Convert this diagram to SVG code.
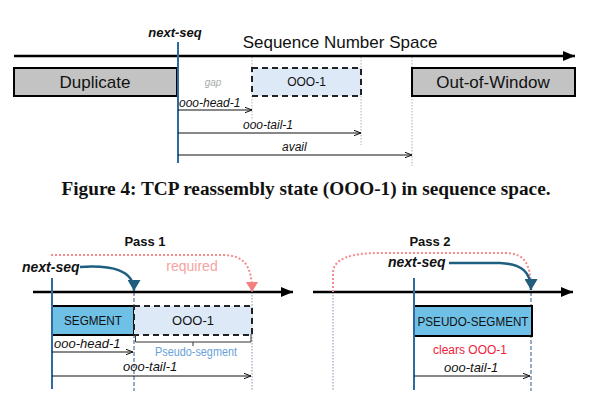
<svg xmlns="http://www.w3.org/2000/svg" width="609" height="400" viewBox="0 0 609 400">
<style>
.sans{font-family:"Liberation Sans",Arial,sans-serif}
.lbl{font-family:"Liberation Sans",Arial,sans-serif;font-style:italic;font-size:12px;fill:#111}
.lbl2{font-family:"Liberation Sans",Arial,sans-serif;font-style:italic;font-size:13px;fill:#111}
.ns{font-family:"Liberation Sans",Arial,sans-serif;font-style:italic;font-weight:bold;fill:#111}
.axis{stroke:#000;stroke-width:2.6;fill:none}
.blue{stroke:#2f6ba3;stroke-width:2;fill:none}
.dot{stroke:#b0b0b0;stroke-width:1;stroke-dasharray:1.5,1.5;fill:none}
.dotb{stroke:#aab8cc;stroke-width:1.5;stroke-dasharray:1.5,1.5;fill:none}
.dash{stroke:#95abc6;stroke-width:2;stroke-dasharray:4,2;fill:none}
.meas{stroke:#111;stroke-width:1;fill:none}
.solid{stroke:#000;stroke-width:2}
.ooo{fill:#dde9f7;stroke:#222;stroke-width:2;stroke-dasharray:6,4}
.gray{fill:#c3c3c3}
.sky{fill:#6fc0e7}
.req{stroke:#f58a8a;stroke-width:2;stroke-dasharray:2,2;fill:none}
.teal{stroke:#1e5f80;stroke-width:2.5;fill:none}
</style>
<defs>
<marker id="big" viewBox="0 0 12 10" markerWidth="12" markerHeight="10" refX="12" refY="5" orient="auto" markerUnits="userSpaceOnUse"><path d="M0,0 L12,5 L0,10 Z" fill="#000"/></marker>
<marker id="small" viewBox="0 0 7 6" markerWidth="7" markerHeight="6" refX="7" refY="3" orient="auto" markerUnits="userSpaceOnUse"><path d="M0,0.3 L7,3 L0,5.7" fill="none" stroke="#111" stroke-width="1"/></marker>
<marker id="pinkTri" viewBox="0 0 10 12" markerWidth="10" markerHeight="12" refX="10" refY="6" orient="auto" markerUnits="userSpaceOnUse"><path d="M0,0 L10,6 L0,12 Z" fill="#f57f7f"/></marker>
<marker id="tealTri" viewBox="0 0 11 13" markerWidth="11" markerHeight="13" refX="11" refY="6.5" orient="auto" markerUnits="userSpaceOnUse"><path d="M0,0 L11,6.5 L0,13 Z" fill="#1e5f80"/></marker>
</defs>

<!-- ===== Top figure ===== -->
<g id="guides-top">
<line class="dot" x1="252" y1="57" x2="252" y2="120"/>
<line class="dot" x1="361" y1="57" x2="361" y2="145"/>
<line class="dot" x1="412" y1="57" x2="412" y2="166"/>
</g>
<g id="axis-top">
<line class="axis" x1="14" y1="56" x2="575" y2="56" marker-end="url(#big)"/>
<text class="sans" x="340" y="48" font-size="17" text-anchor="middle" fill="#111">Sequence Number Space</text>
</g>
<g id="duplicate">
<rect class="gray solid" x="14" y="68" width="163" height="28"/>
<text class="sans" x="95" y="88" font-size="17" text-anchor="middle" fill="#111">Duplicate</text>
</g>
<g id="ooo1-top">
<rect class="ooo" x="252" y="68" width="109" height="28"/>
<text class="sans" x="306.5" y="86" font-size="12" text-anchor="middle" fill="#111">OOO-1</text>
</g>
<g id="out-of-window">
<rect class="gray solid" x="412" y="68" width="163" height="28"/>
<text class="sans" x="493" y="88" font-size="17" text-anchor="middle" fill="#111">Out-of-Window</text>
</g>
<g id="gap">
<text class="sans" x="213" y="86" font-size="10" font-style="italic" text-anchor="middle" fill="#aaa">gap</text>
</g>
<g id="next-seq-top">
<line class="blue" x1="178" y1="42" x2="178" y2="163"/>
<text class="ns" x="175" y="37" font-size="13" text-anchor="middle">next-seq</text>
</g>
<g id="connectors-top">
<line class="meas" x1="178" y1="110" x2="252" y2="110" marker-end="url(#small)"/>
<text class="lbl" x="179" y="107">ooo-head-1</text>
<line class="meas" x1="178" y1="133" x2="361" y2="133" marker-end="url(#small)"/>
<text class="lbl" x="243" y="129">ooo-tail-1</text>
<line class="meas" x1="178" y1="155" x2="412" y2="155" marker-end="url(#small)"/>
<text class="lbl" x="282" y="151">avail</text>
</g>

<g id="caption">
<text x="306" y="195" font-family="'Liberation Serif','Times New Roman',serif" font-weight="bold" font-size="18" text-anchor="middle" textLength="489" lengthAdjust="spacingAndGlyphs" fill="#111">Figure 4: TCP reassembly state (OOO-1) in sequence space.</text>
</g>

<!-- ===== Pass 1 ===== -->
<g id="guides-pass1">
<line class="dash" x1="134" y1="292" x2="134" y2="391"/>
<line class="dotb" x1="252" y1="292" x2="252" y2="391"/>
</g>
<g id="axis-pass1">
<line class="axis" x1="33" y1="292" x2="293" y2="292" marker-end="url(#big)"/>
<text class="sans" x="145" y="246" font-size="13" font-weight="bold" text-anchor="middle" fill="#111">Pass 1</text>
</g>
<g id="segment">
<rect class="sky solid" x="52" y="306" width="82" height="29"/>
<text class="sans" x="93" y="325" font-size="13" text-anchor="middle" textLength="58" lengthAdjust="spacingAndGlyphs" fill="#111">SEGMENT</text>
</g>
<g id="ooo1-pass1">
<rect class="ooo" x="134" y="306" width="118" height="29"/>
<text class="sans" x="193" y="325" font-size="13" text-anchor="middle" fill="#111">OOO-1</text>
</g>
<g id="pseudo-segment-bracket">
<path d="M135.5,334 V342 H251 V334 M193,342 V346" fill="none" stroke="#333" stroke-width="1"/>
<text class="sans" x="196" y="356" font-size="12" text-anchor="middle" textLength="82" lengthAdjust="spacingAndGlyphs" fill="#6a9fd8">Pseudo-segment</text>
</g>
<g id="next-seq-pass1">
<line class="blue" x1="52" y1="278" x2="52" y2="389"/>
<text class="ns" x="22" y="272" font-size="14">next-seq</text>
</g>
<g id="connectors-pass1">
<path class="req" d="M51,255 L222,255 C244,255 252,265 252,292" marker-end="url(#pinkTri)"/>
<text class="sans" x="192" y="271" font-size="14" text-anchor="middle" fill="#f5a3a3">required</text>
<path class="teal" d="M80,267 C112,265 134,270 134,291" marker-end="url(#tealTri)"/>
<line class="meas" x1="52" y1="352" x2="133" y2="352" marker-end="url(#small)"/>
<text class="lbl2" x="54" y="348">ooo-head-1</text>
<line class="meas" x1="52" y1="376" x2="251" y2="376" marker-end="url(#small)"/>
<text class="lbl2" x="123" y="371">ooo-tail-1</text>
</g>

<!-- ===== Pass 2 ===== -->
<g id="guides-pass2">
<line class="dotb" x1="333" y1="292" x2="333" y2="391"/>
<line class="dash" x1="531" y1="292" x2="531" y2="391"/>
</g>
<g id="axis-pass2">
<line class="axis" x1="313" y1="292" x2="573" y2="292" marker-end="url(#big)"/>
<text class="sans" x="430" y="246" font-size="13" font-weight="bold" text-anchor="middle" fill="#111">Pass 2</text>
</g>
<g id="pseudo-segment">
<rect class="sky solid" x="414" y="306" width="118" height="30"/>
<text class="sans" x="473" y="326" font-size="13" text-anchor="middle" textLength="111" lengthAdjust="spacingAndGlyphs" fill="#111">PSEUDO-SEGMENT</text>
</g>
<g id="next-seq-pass2">
<line class="blue" x1="414" y1="278" x2="414" y2="390"/>
<text class="ns" x="388" y="267" font-size="14">next-seq</text>
</g>
<g id="connectors-pass2">
<path class="req" d="M333,292 L333,273 C333,259 350,253 380,253 L505,253 C524,253 531,263 531,290" marker-end="url(#pinkTri)"/>
<path class="teal" d="M449,263 L500,263 C522,264 531,272 531,290" marker-end="url(#tealTri)"/>
<text class="sans" x="470" y="354" font-size="12" text-anchor="middle" fill="#f0203a">clears OOO-1</text>
<line class="meas" x1="414" y1="376" x2="530" y2="376" marker-end="url(#small)"/>
<text class="lbl2" x="444" y="372">ooo-tail-1</text>
</g>
</svg>
